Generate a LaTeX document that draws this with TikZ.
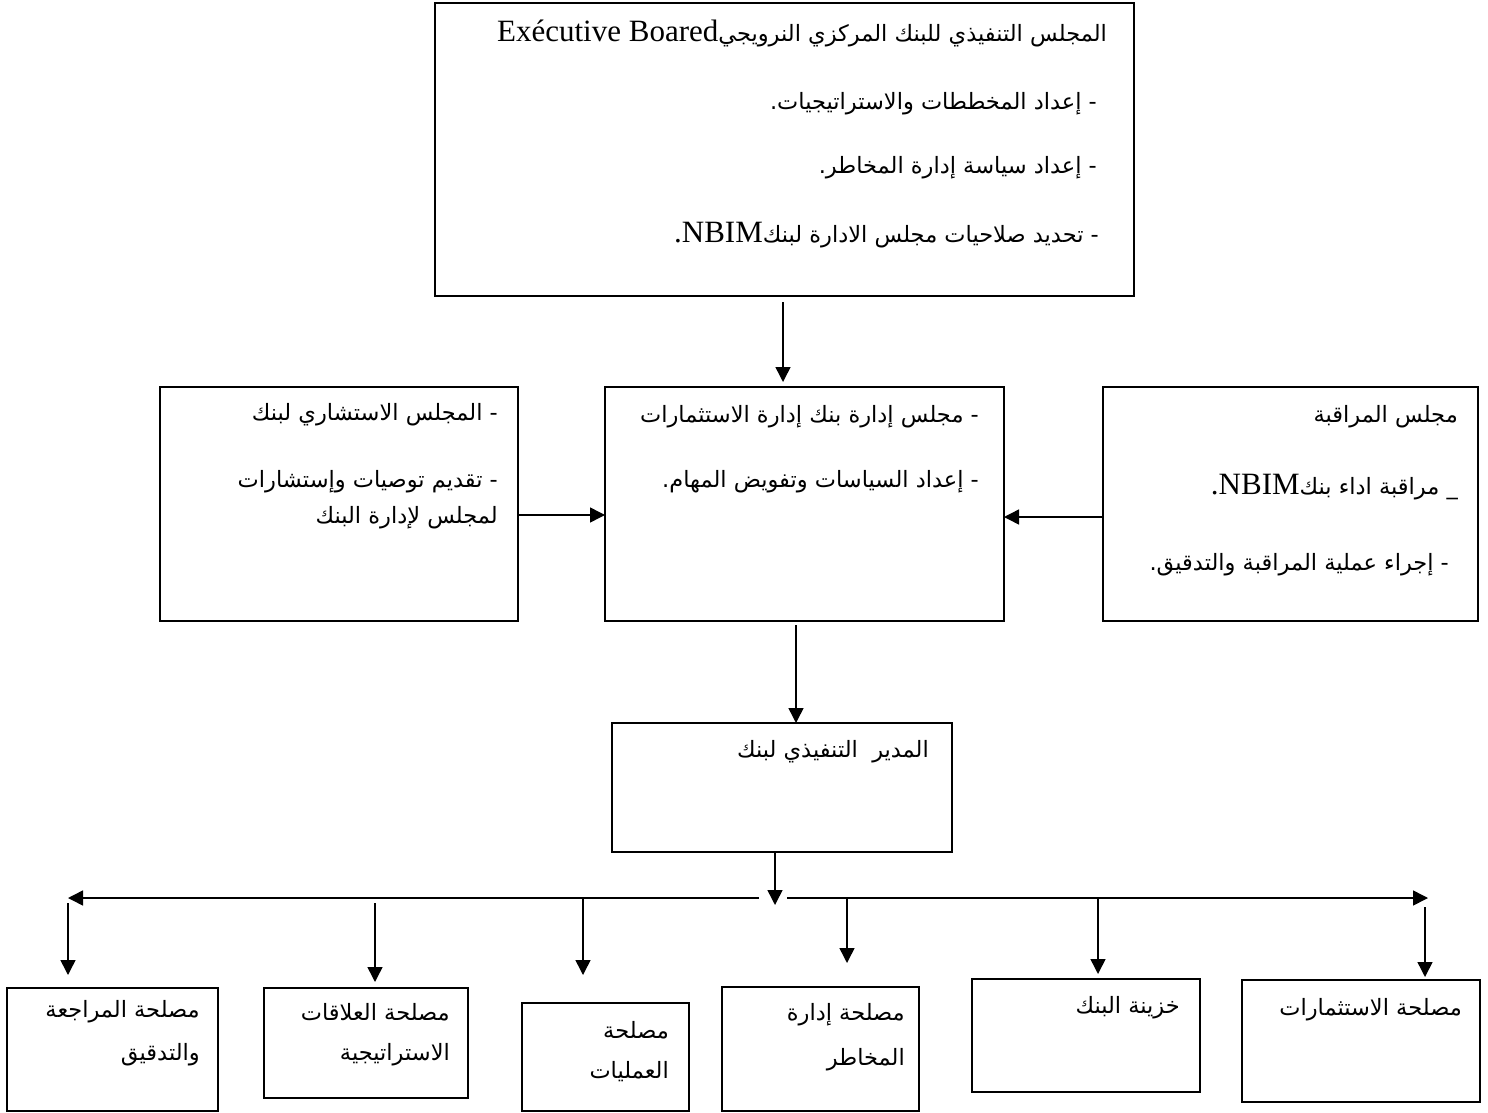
\documentclass[tikz,border=0pt]{standalone}
\usepackage{fontspec}
\setmainfont{Liberation Serif}
\newfontfamily\arabicfont[Script=Arabic]{DejaVu Sans}
\newfontfamily\latinfont{Liberation Serif}
\TeXXeTstate=1
\usetikzlibrary{arrows.meta}
\tikzset{
  x=1pt,y=-1pt,
  boxsty/.style={draw, line width=1.6pt, rectangle, inner sep=0pt, outer sep=0pt},
  arr/.style={line width=1.5pt, -{Triangle[length=15pt,width=15pt]}},
  ar/.style={font=\arabicfont\fontsize{22.5}{26}\selectfont, inner sep=0pt, anchor=east},
}
\newcommand{\mkbox}[5]{\node[boxsty, minimum width={#4-#2}, minimum height={#5-#3}] (#1) at ({(#2+#4)/2},{(#3+#5)/2}) {};}
\newcommand{\LT}[1]{\beginL{\latinfont\fontsize{31}{34}\selectfont #1}\endL}
\newcommand{\LTdot}{{\latinfont\fontsize{31}{34}\selectfont .}}
\begin{document}
\begin{tikzpicture}
\useasboundingbox (0,0) rectangle (1488,1113);
% boxes
\mkbox{top}{435}{3}{1134}{296}
\mkbox{adv}{160}{387}{518}{621}
\mkbox{brd}{605}{387}{1004}{621}
\mkbox{sup}{1103}{387}{1478}{621}
\mkbox{dir}{612}{723}{952}{852}
\mkbox{b1}{7}{988}{218}{1111}
\mkbox{b2}{264}{988}{468}{1098}
\mkbox{b3}{522}{1003}{689}{1111}
\mkbox{b4}{722}{987}{919}{1111}
\mkbox{b5}{972}{979}{1200}{1092}
\mkbox{b6}{1242}{980}{1480}{1102}
% texts
\node[ar] (t1) at (1107,33) {\beginR المجلس التنفيذي للبنك المركزي النرويجي\LT{Exécutive Boared}\endR};
\node[ar] (t2) at (1097,104) {\beginR - إعداد المخططات والاستراتيجيات.\endR};
\node[ar] (t3) at (1097,168) {\beginR - إعداد سياسة إدارة المخاطر.\endR};
\node[ar] (t4) at (1099,235) {\beginR - تحديد صلاحيات مجلس الادارة لبنك\LT{NBIM}\LTdot\endR};
\node[ar] (a1) at (498,415) {\beginR - المجلس الاستشاري لبنك\endR};
\node[ar] (a2) at (498,482) {\beginR - تقديم توصيات وإستشارات\endR};
\node[ar] (a3) at (498,518) {\beginR لمجلس لإدارة البنك\endR};
\node[ar] (c1) at (979,417) {\beginR - مجلس إدارة بنك إدارة الاستثمارات\endR};
\node[ar] (c2) at (979,482) {\beginR - إعداد السياسات وتفويض المهام.\endR};
\node[ar] (s1) at (1458,417) {\beginR مجلس المراقبة\endR};
\node[ar] (s2) at (1458,487) {\beginR \_ مراقبة اداء بنك\LT{NBIM}\LTdot\endR};
\node[ar] (s3) at (1449,565) {\beginR - إجراء عملية المراقبة والتدقيق.\endR};
\node[ar] (d1) at (929,752) {\beginR المدير\ \ التنفيذي لبنك\endR};
\node[ar] (x1) at (200,1012) {\beginR مصلحة المراجعة\endR};
\node[ar] (x2) at (200,1055) {\beginR والتدقيق\endR};
\node[ar] (y1) at (450,1012) {\beginR مصلحة العلاقات\endR};
\node[ar] (y2) at (450,1055) {\beginR الاستراتيجية\endR};
\node[ar] (z1) at (669,1030) {\beginR مصلحة\endR};
\node[ar] (z2) at (669,1072) {\beginR العمليات\endR};
\node[ar] (w1) at (905,1015) {\beginR مصلحة إدارة\endR};
\node[ar] (w2) at (905,1060) {\beginR المخاطر\endR};
\node[ar] (v1) at (1180,1008) {\beginR خزينة البنك\endR};
\node[ar] (u1) at (1462,1010) {\beginR مصلحة الاستثمارات\endR};
% helper coordinates
\coordinate (tx) at (783,0);
\coordinate (ly) at (0,515);
\coordinate (ry) at (0,517);
\coordinate (cx) at (796,0);
\coordinate (dx) at (775,0);
\coordinate (dtip) at (775,905);
\coordinate (busL) at (68,898);
\coordinate (busR) at (1428,898);
\coordinate (gapL) at (759,898);
\coordinate (gapR) at (787,898);
\coordinate (p1) at (68,903);
\coordinate (p2) at (375,903);
\coordinate (p3) at (583,898);
\coordinate (p4) at (847,898);
\coordinate (p5) at (1098,898);
\coordinate (p6) at (1425,907);
% connectors
\draw[arr, shorten <=6pt, shorten >=5pt] (top.south -| tx) -- (brd.north -| tx);
\draw[arr] (adv.east |- ly) -- (brd.west |- ly);
\draw[arr] (sup.west |- ry) -- (brd.east |- ry);
\draw[arr, shorten <=4pt] (brd.south -| cx) -- (dir.north -| cx);
\draw[arr] (dir.south -| dx) -- (dtip);
\draw[arr] (gapL) -- (busL);
\draw[arr] (gapR) -- (busR);
\draw[arr, shorten >=13pt] (p1) -- (b1.north -| p1);
\draw[arr, shorten >=6pt] (p2) -- (b2.north -| p2);
\draw[arr, shorten >=28pt] (p3) -- (b3.north -| p3);
\draw[arr, shorten >=24pt] (p4) -- (b4.north -| p4);
\draw[arr, shorten >=5pt] (p5) -- (b5.north -| p5);
\draw[arr, shorten >=3pt] (p6) -- (b6.north -| p6);
\end{tikzpicture}
\end{document}
